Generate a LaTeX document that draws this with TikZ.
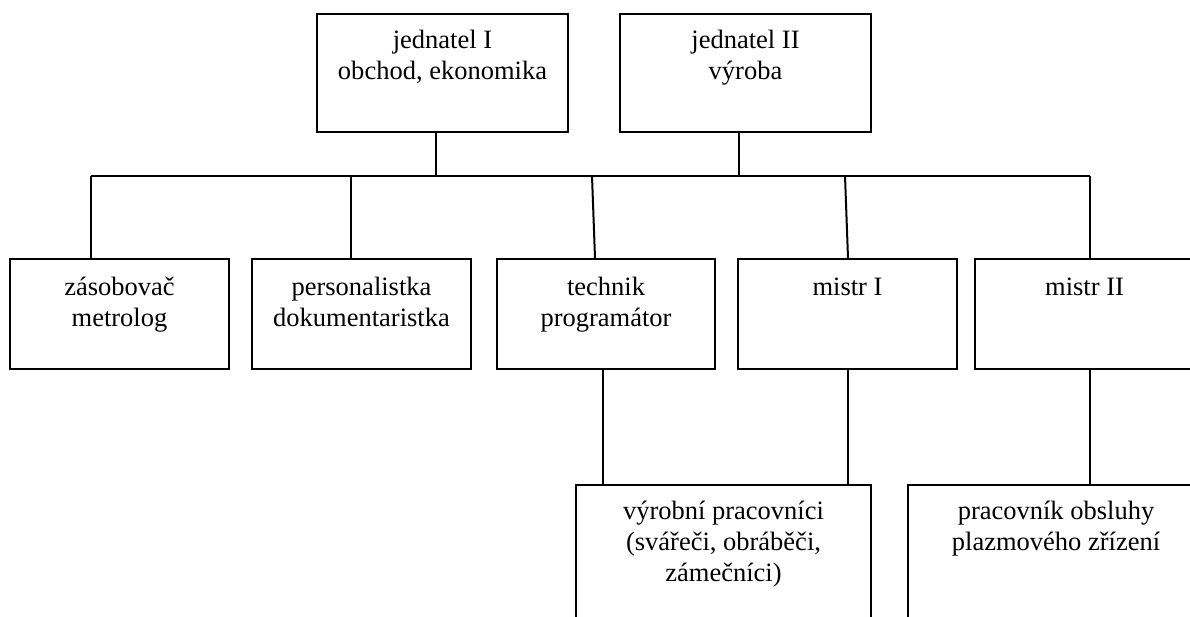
\documentclass[tikz,border=0pt]{standalone}
\usepackage{fontspec}
\setmainfont{Liberation Serif}
\begin{document}
\begin{tikzpicture}[x=1pt,y=-1pt,
  box/.style={draw, line width=2pt, inner sep=0pt, anchor=north west},
  lbl/.style={anchor=north, inner sep=0pt, align=center, font=\fontsize{26.5}{31}\selectfont},
  conn/.style={line width=2pt}]
\useasboundingbox (0,0) rectangle (1190,616);
\clip (0,0) rectangle (1190,616);
% top row
\node[box, minimum width=251pt, minimum height=118pt] (j1) at (316,13) {};
\node[box, minimum width=251pt, minimum height=118pt] (j2) at (619,13) {};
% middle row
\node[box, minimum width=219pt, minimum height=110pt] (zas) at (9,258) {};
\node[box, minimum width=219pt, minimum height=110pt] (pers) at (251,258) {};
\node[box, minimum width=218pt, minimum height=110pt] (tech) at (496,258) {};
\node[box, minimum width=219pt, minimum height=110pt] (m1) at (737,258) {};
\node[box, minimum width=219pt, minimum height=110pt] (m2) at (974,258) {};
% bottom row
\node[box, minimum width=295pt, minimum height=160pt] (vyr) at (575,484) {};
\node[box, minimum width=296pt, minimum height=160pt] (prac) at (907,484) {};
% labels
\node[lbl] (j1t) at ([yshift=-15pt]j1.north) {\rule{0pt}{20pt}jednatel I\\obchod, ekonomika};
\node[lbl] (j2t) at ([yshift=-15pt]j2.north) {\rule{0pt}{20pt}jednatel II\\výroba};
\node[lbl] (zast) at ([yshift=-17.5pt]zas.north) {\rule{0pt}{20pt}zásobovač\\metrolog};
\node[lbl] (perst) at ([yshift=-17.5pt]pers.north) {\rule{0pt}{20pt}personalistka\\dokumentaristka};
\node[lbl] (techt) at ([yshift=-17.5pt]tech.north) {\rule{0pt}{20pt}technik\\programátor};
\node[lbl] (m1t) at ([yshift=-17.5pt]m1.north) {\rule{0pt}{20pt}mistr I};
\node[lbl] (m2t) at ([yshift=-17.5pt]m2.north) {\rule{0pt}{20pt}mistr II};
\node[lbl] (vyrt) at ([yshift=-15pt]vyr.north) {\rule{0pt}{20pt}výrobní pracovníci\\(svářeči, obráběči,\\zámečníci)};
\node[lbl] (pract) at ([yshift=-15pt]prac.north) {\rule{0pt}{20pt}pracovník obsluhy\\plazmového zřízení};
% bus
\coordinate (bl) at (91,176);
\coordinate (br) at (1090,176);
\coordinate (dp) at (351,176);
\coordinate (dt) at (592,176);
\coordinate (dm1) at (845,176);
\draw[conn] (bl) -- (br);
\draw[conn] ([xshift=-6.5pt]j1.south) -- ([xshift=-6.5pt]j1.south |- bl);
\draw[conn] ([xshift=-6.5pt]j2.south) -- ([xshift=-6.5pt]j2.south |- bl);
\draw[conn] (bl) -- (bl |- zas.north);
\draw[conn] (dp) -- (dp |- pers.north);
\draw[conn] (dt) -- ([xshift=-11pt]tech.north);
\draw[conn] (dm1) -- ([xshift=0.5pt]m1.north);
\draw[conn] (br) -- (br |- m2.north);
% lower connectors
\draw[conn] ([xshift=-3pt]tech.south) -- ([xshift=-3pt]tech.south |- vyr.north);
\draw[conn] ([xshift=0.5pt]m1.south) -- ([xshift=0.5pt]m1.south |- vyr.north);
\draw[conn] (br |- m2.south) -- (br |- prac.north);
\end{tikzpicture}
\end{document}
